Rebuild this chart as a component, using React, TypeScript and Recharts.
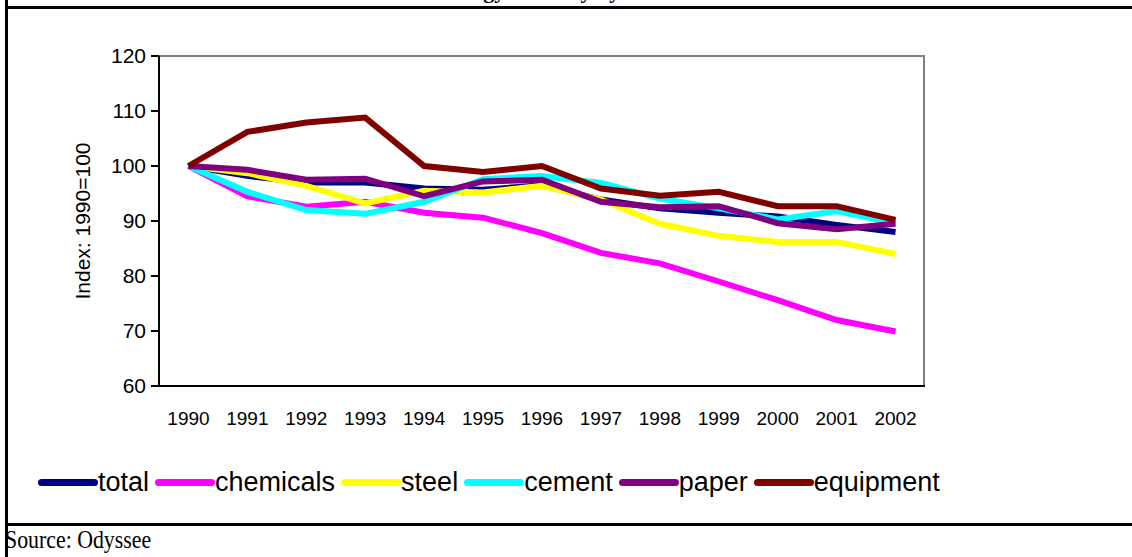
import React from 'react';
import { LineChart, Line, XAxis, YAxis } from 'recharts';

// Energy intensity index by branch, 1990 = 100
const years = ['1990', '1991', '1992', '1993', '1994', '1995', '1996', '1997', '1998', '1999', '2000', '2001', '2002'];
const total = [100, 98.2, 97.0, 97.0, 95.9, 95.7, 96.5, 93.9, 92.3, 91.5, 90.8, 89.3, 88.0];
const chemicals = [100, 94.5, 92.6, 93.5, 91.5, 90.6, 87.8, 84.2, 82.3, 79.0, 75.6, 72.0, 69.9];
const steel = [100, 98.7, 96.4, 93.2, 95.5, 95.2, 96.4, 93.9, 89.5, 87.3, 86.2, 86.2, 84.0];
const cement = [100, 95.3, 92.0, 91.3, 93.5, 97.6, 98.2, 96.9, 94.1, 92.3, 90.3, 91.8, 89.6];
const paper = [100, 99.3, 97.5, 97.7, 94.5, 97.2, 97.5, 93.5, 92.5, 92.7, 89.6, 88.5, 89.5];
const equipment = [100, 106.2, 107.9, 108.8, 100, 98.9, 100, 95.9, 94.6, 95.3, 92.7, 92.7, 90.2];
const yTicks = [60, 70, 80, 90, 100, 110, 120];

const series = [
  { key: 'total', color: '#000080', values: total },
  { key: 'chemicals', color: '#FF00FF', values: chemicals },
  { key: 'steel', color: '#FFFF00', values: steel },
  { key: 'cement', color: '#00FFFF', values: cement },
  { key: 'paper', color: '#800080', values: paper },
  { key: 'equipment', color: '#800000', values: equipment },
];

const data = years.map((year, i) => {
  const row: Record<string, string | number> = { year };
  series.forEach((s) => { row[s.key] = s.values[i]; });
  return row;
});

const edgeTicks = years.map((_, i) => i).concat([years.length]);

const FONT = 'Arial, "Liberation Sans", sans-serif';

const XTick = ({ x, y, payload }: any) => (
  <text x={x} y={y + 31} textAnchor="middle" fontFamily={FONT} fontSize={19} fill="#000">
    {payload.value}
  </text>
);

const YTick = ({ x, y, payload }: any) => (
  <text x={x - 3} y={y + 7} textAnchor="end" fontFamily={FONT} fontSize={21} fill="#000">
    {payload.value}
  </text>
);

export default function App() {
  return (
    <div style={{ position: 'fixed', left: 0, top: 0, width: 1132, height: 557, background: '#fff', overflow: 'hidden' }}>
      {/* frame */}
      <div style={{ position: 'absolute', left: 5, top: 0, width: 3, height: 557, background: '#000' }} />
      <div style={{ position: 'absolute', left: 5, top: 6, width: 1127, height: 3, background: '#000' }} />
      <div style={{ position: 'absolute', left: 5, top: 523, width: 1127, height: 3, background: '#000' }} />
      {/* title, cut off at the top edge */}
      <div style={{ position: 'absolute', left: 0, top: 0, width: 1132, height: 6, overflow: 'hidden' }}>
        <div style={{ position: 'absolute', left: 250, top: -22, fontFamily: '"Liberation Serif", serif', fontWeight: 'bold', fontSize: 22, whiteSpace: 'nowrap' }}>
          Trends in industrial energy intensity by branch
        </div>
      </div>
      {/* plot area border (top/right gray) */}
      <div style={{ position: 'absolute', left: 159, top: 55, width: 766, height: 331, borderTop: '2px solid #808080', borderRight: '2px solid #808080', boxSizing: 'border-box' }} />
      <div style={{ position: 'absolute', left: 0, top: 0 }}>
        <LineChart width={1132} height={557} data={data} margin={{ top: 56, right: 207, bottom: 141, left: 99 }}>
          <XAxis
            xAxisId="edges"
            type="number"
            domain={[0, years.length]}
            ticks={edgeTicks}
            height={0}
            axisLine={false}
            tick={false}
            tickLine={{ stroke: '#000', strokeWidth: 2 }}
            tickSize={7}
            allowDataOverflow
          />
          <XAxis
            dataKey="year"
            scale="band"
            height={30}
            axisLine={{ stroke: '#000', strokeWidth: 2 }}
            tickLine={false}
            tick={<XTick />}
            interval={0}
          />
          <YAxis
            width={60}
            domain={[60, 120]}
            ticks={yTicks}
            axisLine={{ stroke: '#000', strokeWidth: 2 }}
            tickLine={{ stroke: '#000', strokeWidth: 2 }}
            tickSize={8}
            tick={<YTick />}
            label={{ value: 'Index: 1990=100', angle: -90, position: 'insideLeft', offset: -16, style: { fontFamily: FONT, fontSize: 21, fill: '#000', textAnchor: 'middle' } }}
          />
          {series.map((s) => (
            <Line
              key={s.key}
              dataKey={s.key}
              stroke={s.color}
              strokeWidth={6}
              dot={false}
              type="linear"
              isAnimationActive={false}
            />
          ))}
        </LineChart>
      </div>
      {/* legend */}
      <div style={{ position: 'absolute', left: 38, top: 467, display: 'flex', alignItems: 'center', fontFamily: FONT, fontSize: 27 }}>
        {series.map((s) => (
          <div key={s.key} style={{ display: 'flex', alignItems: 'center', marginRight: 6 }}>
            <span style={{ display: 'inline-block', width: 60, height: 7, borderRadius: 4, background: s.color }} />
            <span>{s.key}</span>
          </div>
        ))}
      </div>
      <div style={{ position: 'absolute', left: 5, top: 525, fontFamily: '"Liberation Serif", serif', fontSize: 26, whiteSpace: 'nowrap', transform: 'scaleX(0.84)', transformOrigin: 'left top' }}>
        Source: Odyssee
      </div>
    </div>
  );
}
